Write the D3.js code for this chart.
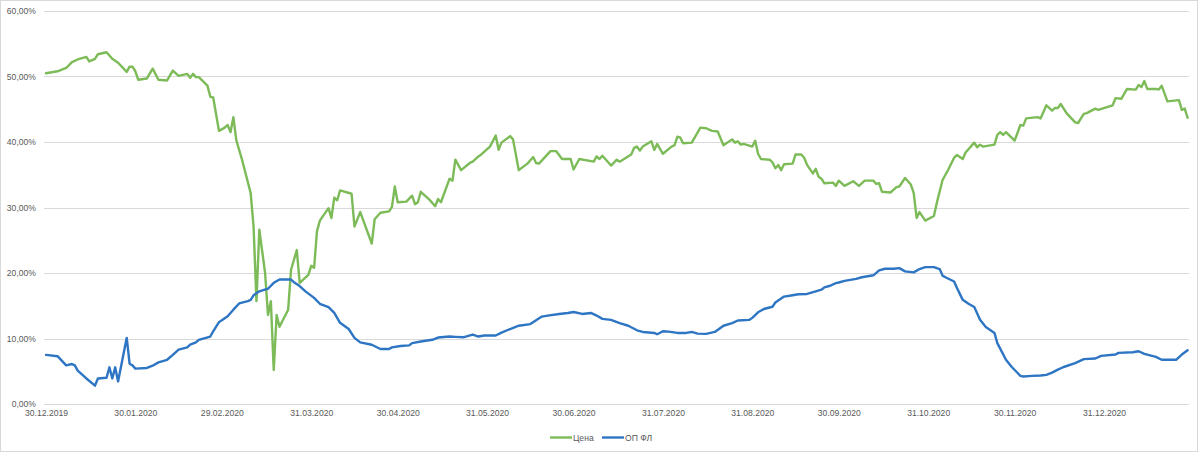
<!DOCTYPE html>
<html>
<head>
<meta charset="utf-8">
<script src="https://cdn.jsdelivr.net/npm/d3@7/dist/d3.min.js"></script>
<style>
  html, body { margin: 0; padding: 0; background: #fff; }
  svg { display: block; }
  text { font-family: "Liberation Sans", Arial, sans-serif; fill: #595959; }
</style>
</head>
<body>
<svg id="chart" width="1200" height="453"></svg>
<script>
// ---------- data ----------
const seriesNames = ["Цена", "ОП ФЛ"];
const seriesColors = ["#7cbb58", "#2e75c3"];

const priceDates = [
"2019-12-30","2020-01-03","2020-01-06","2020-01-08","2020-01-10","2020-01-13","2020-01-14","2020-01-16","2020-01-17","2020-01-20",
"2020-01-22","2020-01-24","2020-01-27","2020-01-28","2020-01-29","2020-01-30","2020-01-31","2020-02-03","2020-02-05","2020-02-07",
"2020-02-10","2020-02-12","2020-02-14","2020-02-17","2020-02-18","2020-02-19","2020-02-20","2020-02-21","2020-02-24","2020-02-25",
"2020-02-26","2020-02-28","2020-03-01","2020-03-02","2020-03-03","2020-03-04","2020-03-05","2020-03-06","2020-03-07","2020-03-10",
"2020-03-11","2020-03-12","2020-03-13","2020-03-15","2020-03-16","2020-03-17","2020-03-18","2020-03-19","2020-03-20","2020-03-23",
"2020-03-24","2020-03-26","2020-03-27","2020-03-30","2020-03-31","2020-04-01","2020-04-02","2020-04-03","2020-04-06","2020-04-07",
"2020-04-08","2020-04-09","2020-04-10","2020-04-14","2020-04-15","2020-04-17","2020-04-21","2020-04-22","2020-04-24","2020-04-27",
"2020-04-28","2020-04-29","2020-04-30","2020-05-03","2020-05-05","2020-05-06","2020-05-07","2020-05-08","2020-05-11","2020-05-13",
"2020-05-14","2020-05-15","2020-05-18","2020-05-19","2020-05-20","2020-05-22","2020-05-25","2020-05-26","2020-05-28","2020-05-29",
"2020-06-01","2020-06-03","2020-06-04","2020-06-05","2020-06-08","2020-06-09","2020-06-11","2020-06-14","2020-06-16","2020-06-17",
"2020-06-18","2020-06-22","2020-06-24","2020-06-26","2020-06-29","2020-06-30","2020-07-02","2020-07-07","2020-07-08","2020-07-09",
"2020-07-10","2020-07-13","2020-07-15","2020-07-16","2020-07-20","2020-07-21","2020-07-22","2020-07-23","2020-07-24","2020-07-27",
"2020-07-28","2020-07-29","2020-07-31","2020-08-03","2020-08-04","2020-08-05","2020-08-06","2020-08-07","2020-08-10","2020-08-13",
"2020-08-15","2020-08-17","2020-08-19","2020-08-21","2020-08-24","2020-08-25","2020-08-26","2020-08-27","2020-08-28","2020-08-31",
"2020-09-01","2020-09-02","2020-09-03","2020-09-06","2020-09-07","2020-09-08","2020-09-09","2020-09-10","2020-09-11","2020-09-14",
"2020-09-15","2020-09-17","2020-09-18","2020-09-19","2020-09-21","2020-09-22","2020-09-23","2020-09-24","2020-09-25","2020-09-28",
"2020-09-29","2020-09-30","2020-10-02","2020-10-05","2020-10-07","2020-10-09","2020-10-12","2020-10-13","2020-10-14","2020-10-15",
"2020-10-18","2020-10-20","2020-10-21","2020-10-23","2020-10-25","2020-10-26","2020-10-27","2020-10-28","2020-10-30","2020-11-02",
"2020-11-03","2020-11-05","2020-11-07","2020-11-09","2020-11-10","2020-11-12","2020-11-13","2020-11-16","2020-11-17","2020-11-18",
"2020-11-19","2020-11-23","2020-11-24","2020-11-25","2020-11-26","2020-11-27","2020-11-30","2020-12-02","2020-12-03","2020-12-04",
"2020-12-08","2020-12-09","2020-12-11","2020-12-13","2020-12-14","2020-12-15","2020-12-16","2020-12-18","2020-12-21","2020-12-22",
"2020-12-24","2020-12-25","2020-12-28","2020-12-29","2021-01-03","2021-01-04","2021-01-06","2021-01-08","2021-01-11","2021-01-12",
"2021-01-13","2021-01-14","2021-01-15","2021-01-18","2021-01-19","2021-01-20","2021-01-22","2021-01-26","2021-01-27","2021-01-28",
"2021-01-29"
];
const priceValues = [
50.5,50.8,51.3,52.2,52.6,53.0,52.3,52.7,53.4,53.7,
52.7,52.1,50.7,51.5,51.5,50.8,49.5,49.7,51.2,49.5,
49.4,50.9,50.1,50.4,49.8,50.4,49.9,49.9,48.6,46.9,
46.8,41.7,42.2,42.6,41.5,43.8,40.3,38.8,37.3,32.2,
27.1,15.7,26.6,20.0,13.6,15.7,5.2,13.6,11.8,14.4,
20.5,23.5,18.5,19.7,21.1,20.8,26.4,28.0,29.9,28.4,
31.5,31.1,32.6,32.1,27.1,29.3,24.5,28.2,29.2,29.4,
30.1,33.2,30.8,30.9,31.8,30.5,30.8,32.4,31.2,30.2,
31.3,30.8,34.4,34.1,37.3,35.7,36.8,37.0,37.8,38.1,
39.3,41.0,38.8,39.9,40.9,40.4,35.7,36.7,37.7,36.8,
36.7,38.6,38.6,37.4,37.4,35.8,37.4,37.0,37.8,37.4,
37.9,36.4,37.3,37.0,38.1,39.1,39.3,38.7,39.3,40.1,
38.8,39.7,38.2,39.3,39.5,40.8,40.7,39.8,39.9,42.2,
42.1,41.7,41.6,39.5,40.4,39.9,40.1,39.6,39.7,39.3,
40.2,38.2,37.4,37.3,36.9,36.0,36.5,35.7,36.6,36.7,
38.1,38.1,37.6,36.5,35.2,35.9,34.7,34.4,33.7,33.8,
33.3,34.1,33.3,34.0,33.3,34.1,34.1,33.6,33.7,32.4,
32.3,33.1,33.2,34.5,33.5,32.2,28.4,29.3,28.0,28.7,
30.7,34.2,35.8,37.6,38.0,37.4,38.4,39.9,39.2,39.6,
39.3,39.6,41.1,41.5,41.1,41.5,40.2,42.6,42.5,43.6,
43.8,43.6,45.6,44.8,45.2,45.2,45.8,44.4,43.0,42.9,
44.3,44.4,45.1,44.9,45.6,46.7,46.6,48.1,48.0,48.7,
48.4,49.3,48.1,48.1,48.0,48.6,46.2,46.4,44.9,45.1,
43.7
];

const opDates = [
"2019-12-30","2020-01-03","2020-01-06","2020-01-08","2020-01-09","2020-01-10","2020-01-13","2020-01-16","2020-01-17","2020-01-20",
"2020-01-21","2020-01-22","2020-01-23","2020-01-24","2020-01-27","2020-01-28","2020-01-29","2020-01-30","2020-02-03","2020-02-05",
"2020-02-07","2020-02-10","2020-02-12","2020-02-14","2020-02-17","2020-02-18","2020-02-20","2020-02-21","2020-02-25","2020-02-26",
"2020-02-28","2020-02-29","2020-03-02","2020-03-04","2020-03-06","2020-03-09","2020-03-10","2020-03-11","2020-03-13","2020-03-16",
"2020-03-18","2020-03-20","2020-03-24","2020-03-25","2020-03-27","2020-03-29","2020-04-01","2020-04-03","2020-04-06","2020-04-08",
"2020-04-10","2020-04-13","2020-04-15","2020-04-17","2020-04-21","2020-04-24","2020-04-27","2020-04-28","2020-05-01","2020-05-04",
"2020-05-05","2020-05-08","2020-05-12","2020-05-14","2020-05-18","2020-05-20","2020-05-23","2020-05-26","2020-05-28","2020-05-30",
"2020-06-03","2020-06-05","2020-06-08","2020-06-11","2020-06-15","2020-06-19","2020-06-21","2020-06-25","2020-06-28","2020-06-30",
"2020-07-03","2020-07-06","2020-07-08","2020-07-10","2020-07-13","2020-07-16","2020-07-19","2020-07-22","2020-07-24","2020-07-28",
"2020-07-29","2020-07-31","2020-08-02","2020-08-05","2020-08-08","2020-08-10","2020-08-12","2020-08-15","2020-08-18","2020-08-21",
"2020-08-24","2020-08-26","2020-08-30","2020-08-31","2020-09-02","2020-09-04","2020-09-07","2020-09-08","2020-09-11","2020-09-14",
"2020-09-16","2020-09-19","2020-09-22","2020-09-24","2020-09-25","2020-09-27","2020-09-29","2020-09-30","2020-10-02","2020-10-06",
"2020-10-08","2020-10-12","2020-10-14","2020-10-16","2020-10-19","2020-10-21","2020-10-23","2020-10-26","2020-10-28","2020-10-30",
"2020-11-02","2020-11-04","2020-11-05","2020-11-06","2020-11-09","2020-11-10","2020-11-12","2020-11-14","2020-11-16","2020-11-18",
"2020-11-20","2020-11-23","2020-11-24","2020-11-27","2020-11-29","2020-12-02","2020-12-03","2020-12-06","2020-12-09","2020-12-11",
"2020-12-13","2020-12-15","2020-12-17","2020-12-21","2020-12-24","2020-12-28","2020-12-30","2021-01-04","2021-01-05","2021-01-10",
"2021-01-12","2021-01-14","2021-01-18","2021-01-20","2021-01-25","2021-01-27","2021-01-29"
];
const opValues = [
7.5,7.3,5.9,6.1,5.9,5.1,3.9,2.8,3.9,4.0,
5.6,3.9,5.6,3.45,10.1,6.15,5.9,5.4,5.5,5.85,
6.35,6.75,7.5,8.3,8.65,9.05,9.4,9.8,10.3,11.1,
12.5,12.8,13.4,14.4,15.35,15.7,15.9,16.6,17.2,17.6,
18.5,19.0,19.0,18.6,18.0,17.2,16.2,15.3,14.8,13.9,
12.4,11.45,10.1,9.4,9.05,8.4,8.4,8.65,8.85,8.95,
9.3,9.55,9.8,10.15,10.3,10.25,10.2,10.6,10.3,10.45,
10.45,10.9,11.45,11.95,12.2,13.35,13.5,13.75,13.9,14.05,
13.75,13.9,13.5,13.0,12.85,12.35,11.95,11.25,11.0,10.85,
10.65,11.1,11.05,10.85,10.85,11.0,10.75,10.7,11.0,11.95,
12.35,12.75,12.85,13.15,14.0,14.5,14.85,15.5,16.4,16.6,
16.75,16.8,17.2,17.45,17.8,18.05,18.45,18.55,18.8,19.1,
19.35,19.65,20.4,20.65,20.65,20.75,20.25,20.1,20.6,20.9,
20.9,20.6,19.6,19.35,18.7,17.7,15.9,15.3,14.8,12.85,
11.75,10.85,9.3,6.75,5.65,4.3,4.2,4.3,4.35,4.45,
4.8,5.25,5.65,6.25,6.85,6.95,7.35,7.55,7.8,7.9,
8.05,7.65,7.2,6.75,6.75,7.55,8.2
];

const xTickLabels = ["30.12.2019","30.01.2020","29.02.2020","31.03.2020","30.04.2020","31.05.2020",
  "30.06.2020","31.07.2020","31.08.2020","30.09.2020","31.10.2020","30.11.2020","31.12.2020"];
const yTickValues = [0, 10, 20, 30, 40, 50, 60];

// ---------- drawing ----------
const parseISO = d3.timeParse("%Y-%m-%d");
const parseLabel = d3.timeParse("%d.%m.%Y");
const fmtLabel = d3.timeFormat("%d.%m.%Y");

const svg = d3.select("#chart");

// chart border
svg.append("rect")
  .attr("x", 0.5).attr("y", 0.5).attr("width", 1197).attr("height", 451)
  .attr("fill", "#fff").attr("stroke", "#d9d9d9").attr("stroke-width", 1);

const plotLeft = 44, plotRight = 1189, plotTop = 11, plotBottom = 404;

const x = d3.scaleTime()
  .domain([new Date(2019, 11, 29, 7, 20), new Date(2021, 0, 29, 11, 40)])
  .range([plotLeft, plotRight]);
const y = d3.scaleLinear().domain([0, 60]).range([plotBottom, plotTop]);

// gridlines
svg.append("g").selectAll("line").data(yTickValues).join("line")
  .attr("x1", plotLeft).attr("x2", plotRight)
  .attr("y1", d => Math.round(y(d)) + 0.5).attr("y2", d => Math.round(y(d)) + 0.5)
  .attr("stroke", "#d9d9d9").attr("stroke-width", 1);

// y axis labels
const yAxis = d3.axisLeft(y).tickValues(yTickValues).tickSize(0).tickPadding(0)
  .tickFormat(d => d3.format(".2f")(d).replace(".", ",") + "%");
const gy = svg.append("g").attr("transform", "translate(36,0)").call(yAxis);
gy.select(".domain").remove();
gy.selectAll("text").attr("font-size", "8.6px").attr("fill", "#595959")
  .attr("font-family", "'Liberation Sans', Arial, sans-serif");

// x axis labels
const xTicks = xTickLabels.map(s => parseLabel(s));
const xAxis = d3.axisBottom(x).tickValues(xTicks).tickSize(0).tickPadding(0)
  .tickFormat(d => fmtLabel(d));
const gx = svg.append("g").attr("transform", "translate(0,410)").call(xAxis);
gx.select(".domain").remove();
gx.selectAll("text").attr("font-size", "8.6px").attr("fill", "#595959")
  .attr("font-family", "'Liberation Sans', Arial, sans-serif").attr("dy", "0.71em");

// lines
const line = d3.line().x(d => x(d[0])).y(d => y(d[1])).curve(d3.curveLinear);
const priceData = priceDates.map((d, i) => [parseISO(d), priceValues[i]]);
const opData = opDates.map((d, i) => [parseISO(d), opValues[i]]);

svg.append("path").datum(priceData)
  .attr("d", line).attr("fill", "none")
  .attr("stroke", seriesColors[0]).attr("stroke-width", 2.4)
  .attr("stroke-linejoin", "round").attr("stroke-linecap", "round");
svg.append("path").datum(opData)
  .attr("d", line).attr("fill", "none")
  .attr("stroke", seriesColors[1]).attr("stroke-width", 2.4)
  .attr("stroke-linejoin", "round").attr("stroke-linecap", "round");

// legend
const legendItems = [
  { name: seriesNames[0], color: seriesColors[0], x0: 550 },
  { name: seriesNames[1], color: seriesColors[1], x0: 602 }
];
const lg = svg.append("g");
legendItems.forEach(it => {
  lg.append("line").attr("x1", it.x0).attr("x2", it.x0 + 22)
    .attr("y1", 437.5).attr("y2", 437.5)
    .attr("stroke", it.color).attr("stroke-width", 2.4);
  lg.append("text").attr("x", it.x0 + 23).attr("y", 437.5).attr("dy", "0.35em")
    .attr("font-size", "8.6px").attr("fill", "#595959").text(it.name);
});
</script>
</body>
</html>
